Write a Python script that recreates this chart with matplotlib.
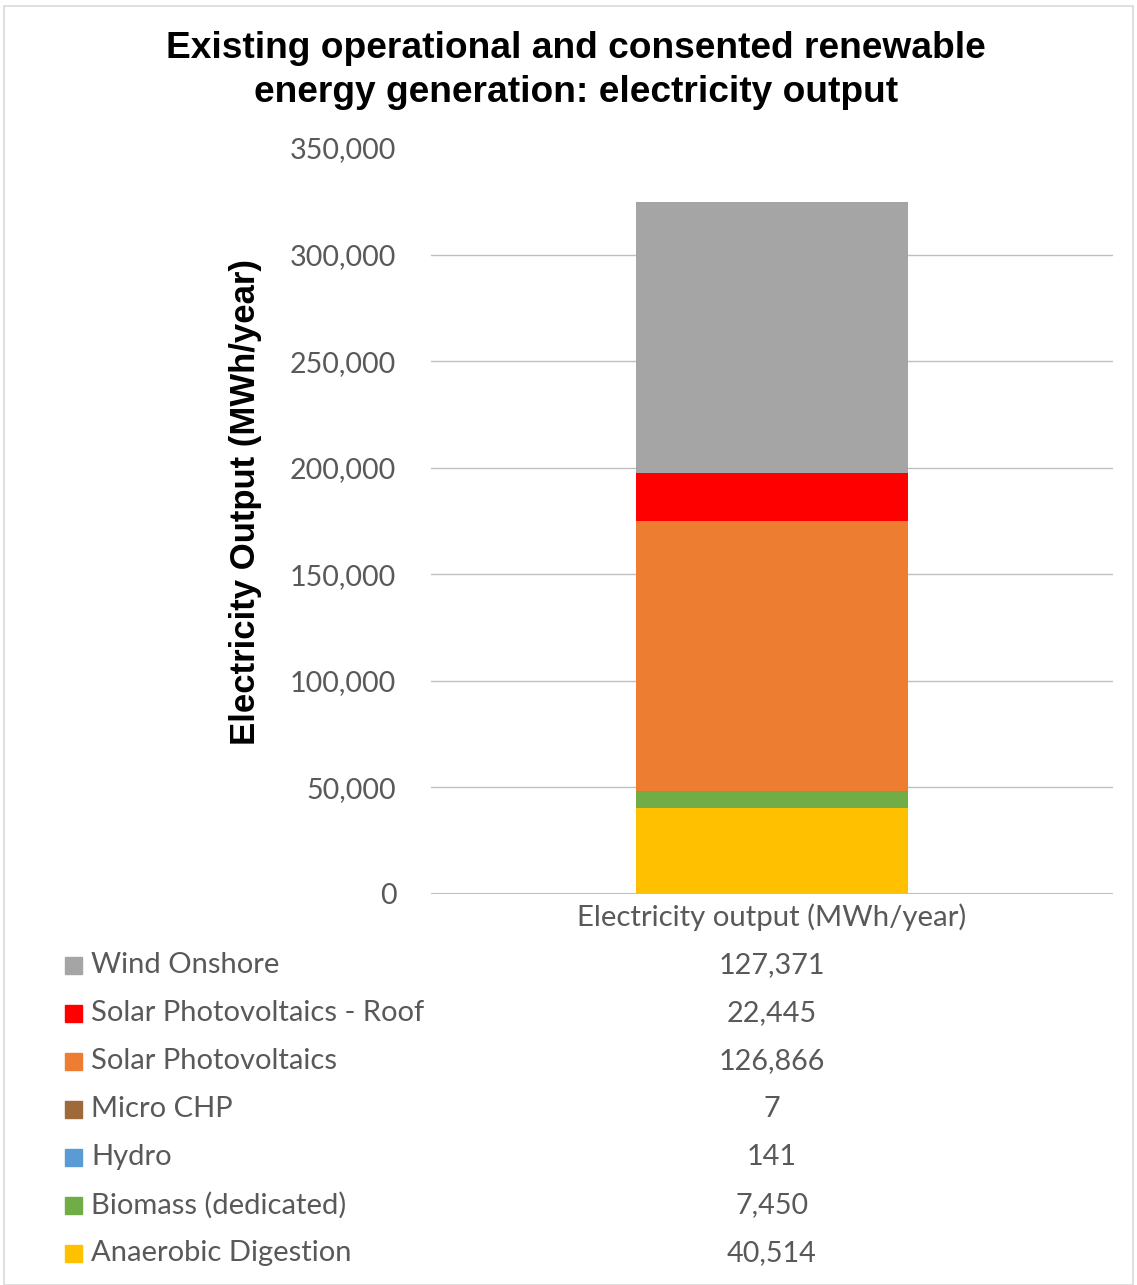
import matplotlib.pyplot as plt
from matplotlib.patches import Rectangle
from matplotlib.ticker import FuncFormatter

# Series, listed bottom of stack first
sources = ["Anaerobic Digestion", "Biomass (dedicated)", "Hydro", "Micro CHP",
           "Solar Photovoltaics", "Solar Photovoltaics - Roof", "Wind Onshore"]
values = [40514, 7450, 141, 7, 126866, 22445, 127371]
colors = ["#FFC000", "#70AD47", "#5B9BD5", "#9E6A3A", "#ED7D31", "#FF0000", "#A5A5A5"]
category = "Electricity output (MWh/year)"
yticks = [0, 50000, 100000, 150000, 200000, 250000, 300000, 350000]

W, H = 1137, 1285
fig = plt.figure(figsize=(W / 100, H / 100), dpi=100)
grey_text = "#595959"
tick_font = "Lato"

# light chart border
fig.patches.append(Rectangle((4 / W, 0), (W - 8) / W, (H - 6) / H, transform=fig.transFigure,
                             fill=False, edgecolor="#D9D9D9", linewidth=1.2))

ax = fig.add_axes([431 / W, 391 / H, 682 / W, 746 / H])
bottom = 0
for name, val, col in zip(sources, values, colors):
    ax.bar(0, val, width=0.4, bottom=bottom, color=col, zorder=3)
    bottom += val

ax.set_xlim(-0.5, 0.5)
ax.set_ylim(0, 350000)
ax.set_yticks(yticks)
ax.yaxis.set_major_formatter(FuncFormatter(lambda v, p: f"{int(v):,}"))
for t in yticks[1:-1]:
    ax.axhline(t, color="#BFBFBF", linewidth=1, zorder=1)
ax.axhline(0, color="#BFBFBF", linewidth=1.5, zorder=4)
for s in ax.spines.values():
    s.set_visible(False)
ax.tick_params(axis="y", length=0, pad=25, labelsize=20.6, labelcolor=grey_text)
for lab in ax.get_yticklabels():
    lab.set_family(tick_font)
ax.set_xticks([])

fig.text(576 / W, 1 - 49 / H, "Existing operational and consented renewable",
         ha="center", va="center", fontsize=26.7, fontweight="bold", family="Liberation Sans")
fig.text(576 / W, 1 - 92 / H, "energy generation: electricity output",
         ha="center", va="center", fontsize=26.7, fontweight="bold", family="Liberation Sans")
fig.text(245 / W, 1 - 502 / H, "Electricity Output (MWh/year)", rotation=90,
         ha="center", va="center", fontsize=25, fontweight="bold", family="Liberation Sans")

fig.text(772 / W, 1 - 917 / H, category, ha="center", va="center",
         fontsize=21.2, color=grey_text, family=tick_font)

# data table, top row is the top of the stack
for i, (name, val, col) in enumerate(zip(sources[::-1], values[::-1], colors[::-1])):
    yc = 1 - (965 + 48 * i) / H
    fig.patches.append(Rectangle((65 / W, yc - 9 / H), 17 / W, 17 / H,
                                 transform=fig.transFigure, color=col))
    fig.text(91 / W, yc, name, ha="left", va="center", fontsize=21,
             color=grey_text, family=tick_font)
    fig.text(772 / W, yc, f"{val:,}", ha="center", va="center", fontsize=20.7,
             color=grey_text, family=tick_font)

fig.savefig("out.png", dpi=100, facecolor="white")
